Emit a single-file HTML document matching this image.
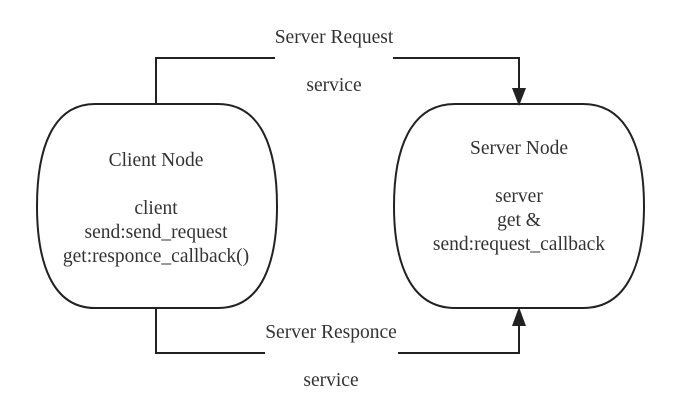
<!DOCTYPE html>
<html><head><style>body{margin:0;background:#fff}</style></head><body>
<svg width="681" height="412" xmlns="http://www.w3.org/2000/svg" font-family="Liberation Serif, serif" font-size="19.5" fill="#333">
<g fill="none" stroke="#222" stroke-width="2">
<path d="M95,104 L218,104 C262,104 277,150 277,206 C277,262 262,308 218,308 L95,308 C52,308 37,262 37,206 C37,150 52,104 95,104 Z"/>
<path d="M455,104 L583,104 C628,104 644,150 644,206 C644,262 628,308 583,308 L455,308 C410,308 394,262 394,206 C394,150 410,104 455,104 Z"/>
<path d="M156,104 L156,58 L275,58 M393,58 L519,58 L519,90"/>
<path d="M156,309 L156,353 L265,353 M398,353 L519,353 L519,324"/>
</g>
<path d="M512,88 L526,88 L519,106 Z" fill="#222"/>
<path d="M512,326 L526,326 L519,307 Z" fill="#222"/>
<g text-anchor="middle">
<text x="334" y="43">Server Request</text>
<text x="334" y="91">service</text>
<text x="331" y="338">Server Responce</text>
<text x="331" y="386">service</text>
<text x="156" y="166">Client Node</text>
<text x="156" y="214">client</text>
<text x="156" y="238">send:send_request</text>
<text x="156" y="262">get:responce_callback()</text>
<text x="519" y="154">Server Node</text>
<text x="519" y="202">server</text>
<text x="519" y="226">get &amp;</text>
<text x="519" y="250">send:request_callback</text>
</g>
</svg>
</body></html>
